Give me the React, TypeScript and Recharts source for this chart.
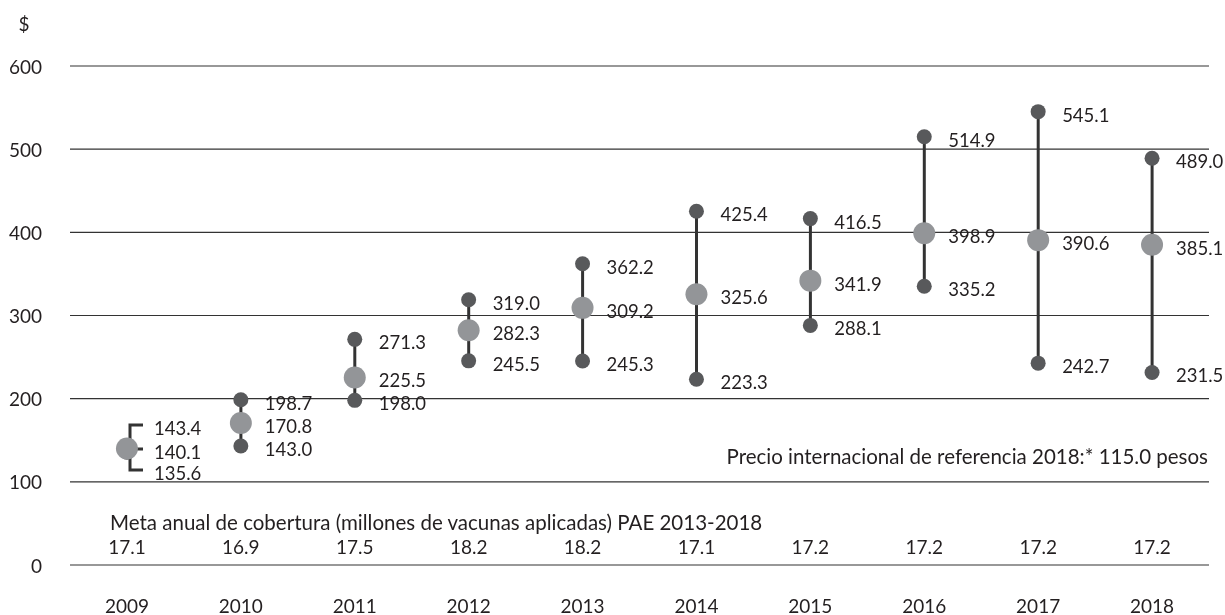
import React from 'react';
import { ComposedChart, Bar, Line, XAxis, YAxis, CartesianGrid, LabelList } from 'recharts';

const years = ['2009', '2010', '2011', '2012', '2013', '2014', '2015', '2016', '2017', '2018'];
const maxPrice = [143.4, 198.7, 271.3, 319.0, 362.2, 425.4, 416.5, 514.9, 545.1, 489.0];
const avgPrice = [140.1, 170.8, 225.5, 282.3, 309.2, 325.6, 341.9, 398.9, 390.6, 385.1];
const minPrice = [135.6, 143.0, 198.0, 245.5, 245.3, 223.3, 288.1, 335.2, 242.7, 231.5];
const metaCobertura = [17.1, 16.9, 17.5, 18.2, 18.2, 17.1, 17.2, 17.2, 17.2, 17.2];
const yTicks = [0, 100, 200, 300, 400, 500, 600];
// years whose range is too narrow, drawn as a bracket with spread labels
const bracketYears = ['2009'];

const data = years.map((year, i) => ({
  year,
  max: maxPrice[i],
  avg: avgPrice[i],
  min: minPrice[i],
  range: [minPrice[i], maxPrice[i]],
  meta: metaCobertura[i],
}));

const FONT = 'Lato, "Open Sans", sans-serif';
const TEXT = '#231f20';
const DARK = '#58595b';
const GREY = '#939598';
const LINE = '#333333';
const LABEL_SIZE = 18.5;

const RangeShape = (props: any) => {
  const { x, y, width, height, payload } = props;
  const cx = x + width / 2;
  if (bracketYears.includes(payload.year)) {
    const cy = y + height / 2;
    const top = cy - 24;
    const bot = cy + 21;
    const bx = cx + 3;
    const ex = cx + 16;
    const lbl = (ty: number, v: number) => (
      <text x={ex + 11} y={ty + 3} fontSize={LABEL_SIZE} fontFamily={FONT} fill={TEXT} dominantBaseline="central">
        {v.toFixed(1)}
      </text>
    );
    return (
      <g>
        <path d={`M${ex},${top} H${bx} V${bot} H${ex} M${cx},${cy} H${ex}`} stroke={LINE} strokeWidth={3} fill="none" />
        {lbl(top, payload.max)}
        {lbl(cy, payload.avg)}
        {lbl(bot, payload.min)}
      </g>
    );
  }
  return <line x1={cx} x2={cx} y1={y} y2={y + height} stroke={LINE} strokeWidth={3} />;
};

const makeDot = (r: number, fill: string) => (props: any) => {
  const { cx, cy, index } = props;
  return <circle key={index} cx={cx} cy={cy} r={r} fill={fill} />;
};

const valueLabel = (props: any) => {
  const { x, y, value, index } = props;
  if (bracketYears.includes(years[index])) return null;
  return (
    <text x={x + 24} y={y + 3} fontSize={LABEL_SIZE} fontFamily={FONT} fill={TEXT} dominantBaseline="central">
      {Number(value).toFixed(1)}
    </text>
  );
};

const YearTick = (props: any) => {
  const { x, y, payload, index } = props;
  return (
    <g>
      <text x={x} y={y - 27} fontSize={19} fontFamily={FONT} fill={TEXT} textAnchor="middle" dominantBaseline="central">
        {metaCobertura[index].toFixed(1)}
      </text>
      <text x={x} y={y + 32} fontSize={19} fontFamily={FONT} fill={TEXT} textAnchor="middle" dominantBaseline="central">
        {payload.value}
      </text>
    </g>
  );
};

const PriceTick = (props: any) => {
  const { y, payload } = props;
  return (
    <text x={42} y={y} fontSize={19} fontFamily={FONT} fill={TEXT} textAnchor="end" dominantBaseline="central">
      {payload.value}
    </text>
  );
};

export default function App() {
  return (
    <div style={{ position: 'fixed', left: 0, top: 0, width: 1225, height: 615, fontFamily: FONT, color: TEXT }}>
      <div style={{ position: 'absolute', left: 24, top: 23, transform: 'translate(-50%, -50%)', fontSize: 19 }}>$</div>
      <div style={{ position: 'absolute', left: 110, top: 522, transform: 'translateY(-50%)', fontSize: 20.5, whiteSpace: 'nowrap' }}>
        Meta anual de cobertura (millones de vacunas aplicadas) PAE 2013-2018
      </div>
      <div style={{ position: 'absolute', right: 17, top: 456, transform: 'translateY(-50%)', fontSize: 20.5, whiteSpace: 'nowrap' }}>
        Precio internacional de referencia 2018:* 115.0 pesos
      </div>
      <ComposedChart width={1225} height={615} data={data} margin={{ top: 66, right: 16, bottom: 8, left: 0 }}>
        <CartesianGrid vertical={false} stroke={LINE} strokeWidth={1.2} />
        <XAxis dataKey="year" height={42} axisLine={false} tickLine={false} tick={<YearTick />} interval={0} />
        <YAxis domain={[0, 600]} ticks={yTicks} width={70} axisLine={false} tickLine={false} tick={<PriceTick />} />
        <Bar dataKey="range" shape={<RangeShape />} isAnimationActive={false} barSize={10} />
        <Line dataKey="max" stroke="none" dot={makeDot(7.5, DARK)} activeDot={false} isAnimationActive={false}>
          <LabelList dataKey="max" content={valueLabel} />
        </Line>
        <Line dataKey="min" stroke="none" dot={makeDot(7.5, DARK)} activeDot={false} isAnimationActive={false}>
          <LabelList dataKey="min" content={valueLabel} />
        </Line>
        <Line dataKey="avg" stroke="none" dot={makeDot(11, GREY)} activeDot={false} isAnimationActive={false}>
          <LabelList dataKey="avg" content={valueLabel} />
        </Line>
      </ComposedChart>
    </div>
  );
}
